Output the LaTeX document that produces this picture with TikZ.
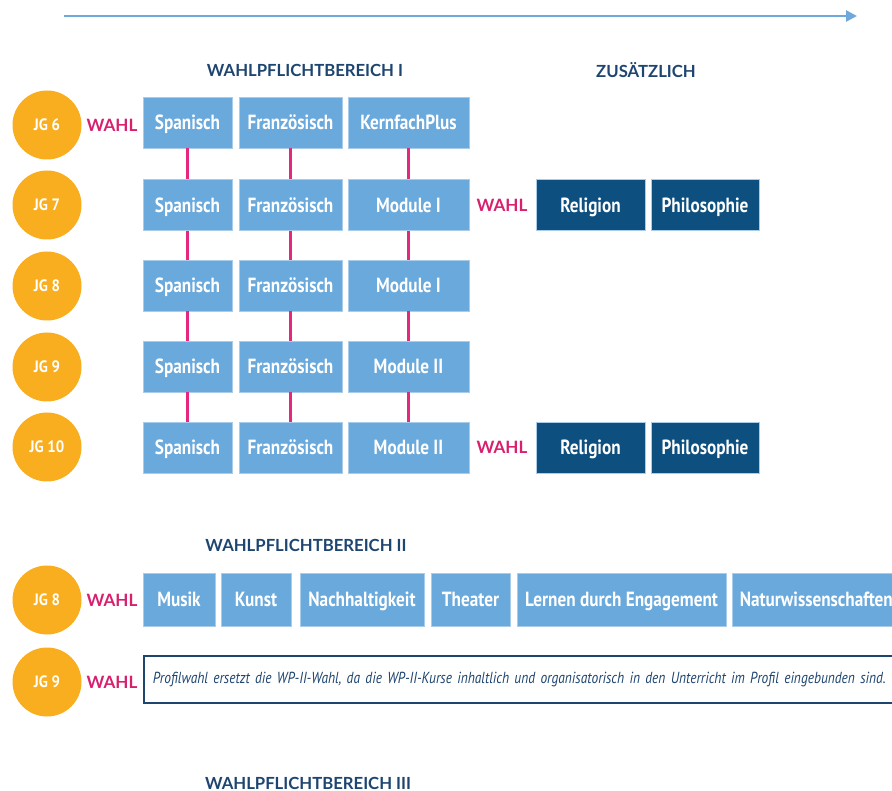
\documentclass[tikz,border=0pt]{standalone}
\usepackage{fontspec}
\usetikzlibrary{arrows.meta}
\newfontfamily\boxfont[FakeStretch=0.84]{PT Sans}
\newfontfamily\jgfont[FakeStretch=0.9]{PT Sans}
\newfontfamily\italfont[FakeStretch=0.84]{PT Sans}
\newfontfamily\headfont{Lato}
\definecolor{lblue}{HTML}{6AA9DC}
\definecolor{lbord}{HTML}{A9CCEB}
\definecolor{dblue}{HTML}{0D5080}
\definecolor{jorange}{HTML}{F9AE1F}
\definecolor{wmag}{HTML}{D8206F}
\definecolor{cmag}{HTML}{E5287F}
\definecolor{navy}{HTML}{1E4570}
\definecolor{arrowc}{HTML}{6FA8DC}
\tikzset{
  lb/.style={fill=lblue, draw=lbord, line width=0.6pt, minimum height=51pt, inner sep=0pt, text height=15pt, text depth=0.5pt, text=white, font=\boxfont\bfseries\fontsize{20.5}{20.5}\selectfont},
  db/.style={lb, fill=dblue},
  jg/.style={circle, fill=jorange, minimum size=69pt, inner sep=0pt, text=white, font=\jgfont\bfseries\fontsize{16.5}{16.5}\selectfont},
  wahl/.style={text=wmag, inner sep=0pt, font=\headfont\bfseries\fontsize{17}{17}\selectfont},
  head/.style={text=navy, inner sep=0pt, font=\headfont\bfseries\fontsize{16.7}{16.7}\selectfont},
  conn/.style={draw=cmag, line width=3.3pt},
  pbox/.style={draw=navy, line width=1.6pt, fill=white, minimum height=47pt, inner xsep=9pt, inner ysep=0pt, anchor=west, align=left, text=navy, font=\italfont\itshape\fontsize{16}{16}\selectfont}
}
\begin{document}
\begin{tikzpicture}[x=1pt,y=-1pt]
\useasboundingbox (0,0) rectangle (892,791);
% timeline arrow
\coordinate (a0) at (64,16);
\coordinate (a1) at (857,16);
\draw[arrowc, line width=2.6pt, -{Triangle[length=11pt,width=11pt]}] (a0) -- (a1);
% headings
\node[head] (h1) at (305,70) {WAHLPFLICHTBEREICH I};
\node[head] (h2) at (646,70) {ZUSÄTZLICH};
\node[head] (h3) at (306,545) {WAHLPFLICHTBEREICH II};
\node[head] (h4) at (308,783) {WAHLPFLICHTBEREICH III};
% circles
\node[jg] (j6) at (47,125) {JG 6};
\node[jg] (j7) at (47,205) {JG 7};
\node[jg] (j8) at (47,286) {JG 8};
\node[jg] (j9) at (47,367) {JG 9};
\node[jg] (j10) at (47,447) {JG 10};
\node[jg] (k8) at (47,600) {JG 8};
\node[jg] (k9) at (47,682) {JG 9};
% WAHL labels
\node[wahl] (w6) at (112,125) {WAHL};
\node[wahl] (w7) at (502,205) {WAHL};
\node[wahl] (w10) at (502,447) {WAHL};
\node[wahl] (wk8) at (112,600) {WAHL};
\node[wahl] (wk9) at (112,682) {WAHL};
% WP I grid
\node[lb, minimum width=89pt] (s6) at (187.5,122.5) {Spanisch};
\node[lb, minimum width=103pt] (f6) at (290.5,122.5) {Französisch};
\node[lb, minimum width=121pt] (m6) at (408.5,122.5) {KernfachPlus};
\node[lb, minimum width=89pt] (s7) at (187.5,205) {Spanisch};
\node[lb, minimum width=103pt] (f7) at (290.5,205) {Französisch};
\node[lb, minimum width=121pt] (m7) at (408.5,205) {Module I};
\node[lb, minimum width=89pt] (s8) at (187.5,285.5) {Spanisch};
\node[lb, minimum width=103pt] (f8) at (290.5,285.5) {Französisch};
\node[lb, minimum width=121pt] (m8) at (408.5,285.5) {Module I};
\node[lb, minimum width=89pt] (s9) at (187.5,366.5) {Spanisch};
\node[lb, minimum width=103pt] (f9) at (290.5,366.5) {Französisch};
\node[lb, minimum width=121pt] (m9) at (408.5,366.5) {Module II};
\node[lb, minimum width=89pt] (s10) at (187.5,447.5) {Spanisch};
\node[lb, minimum width=103pt] (f10) at (290.5,447.5) {Französisch};
\node[lb, minimum width=121pt] (m10) at (408.5,447.5) {Module II};
% Zusaetzlich
\node[db, minimum width=109pt] (r7) at (590.5,205) {Religion};
\node[db, minimum width=108pt] (p7) at (705,205) {Philosophie};
\node[db, minimum width=109pt] (r10) at (590.5,447.5) {Religion};
\node[db, minimum width=108pt] (p10) at (705,447.5) {Philosophie};
% connectors
\foreach \a/\b in {6/7,7/8,8/9,9/10}{
  \draw[conn] (s\a.south) -- (s\b.north);
  \draw[conn] (f\a.south) -- (f\b.north);
  \draw[conn] (m\a.south) -- (m\b.north);
}
% WP II
\node[lb, minimum width=72pt, minimum height=53pt] (mu) at (179,599.5) {Musik};
\node[lb, minimum width=70pt, minimum height=53pt] (ku) at (256,599.5) {Kunst};
\node[lb, minimum width=124pt, minimum height=53pt] (na) at (362,599.5) {Nachhaltigkeit};
\node[lb, minimum width=79pt, minimum height=53pt] (th) at (470.5,599.5) {Theater};
\node[lb, minimum width=209pt, minimum height=53pt] (le) at (621.5,599.5) {Lernen durch Engagement};
\node[lb, minimum width=175pt, minimum height=53pt, anchor=west, inner xsep=8pt, align=left, text width=159pt] (nw) at (731.5,599.5) {Naturwissenschaften};
\node[pbox, text width=760pt] (pw) at (143,679.5) {Profilwahl ersetzt die WP-II-Wahl, da die WP-II-Kurse inhaltlich und organisatorisch in den Unterricht im Profil eingebunden sind.};
\end{tikzpicture}
\end{document}
